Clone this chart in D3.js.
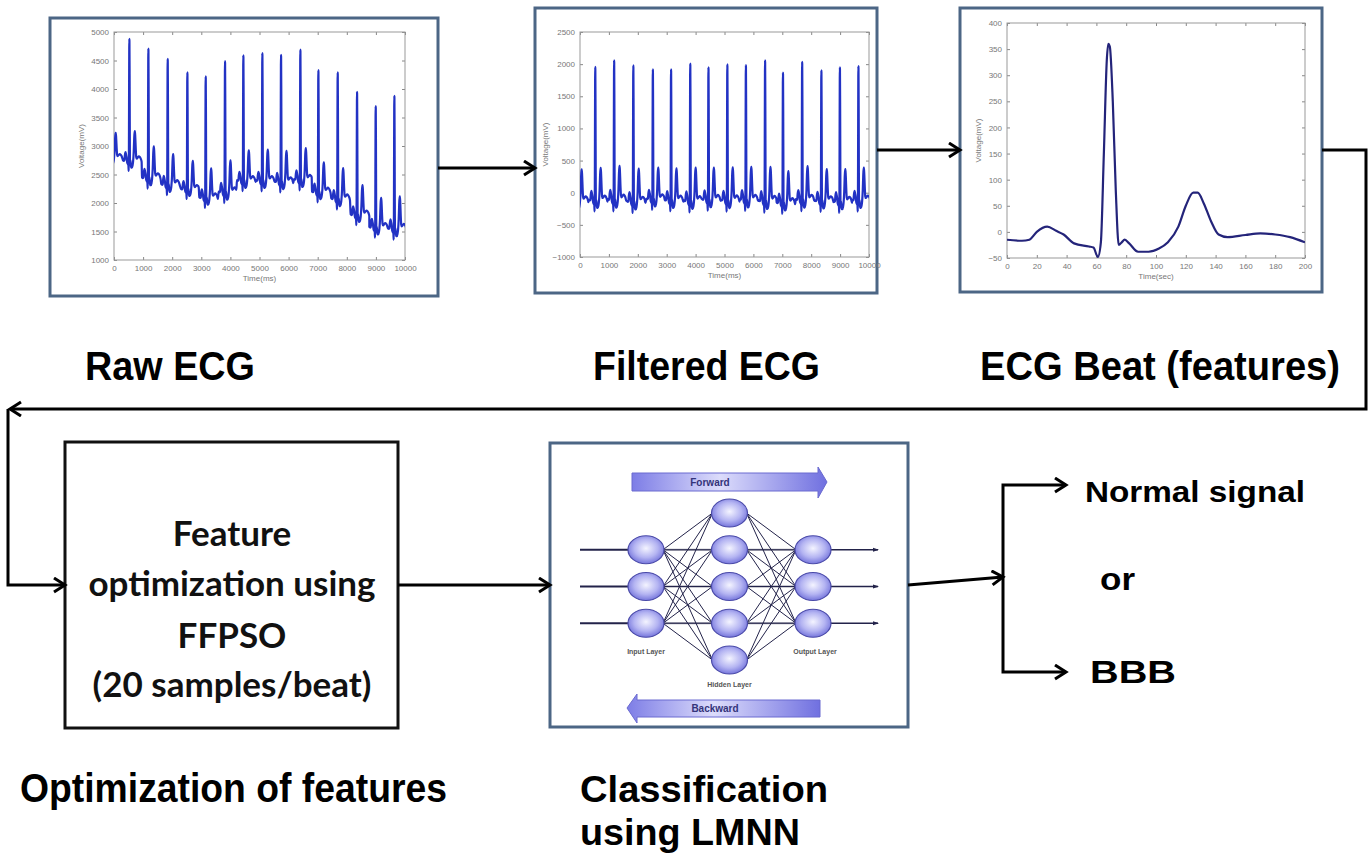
<!DOCTYPE html>
<html>
<head>
<meta charset="utf-8">
<script src="https://cdn.jsdelivr.net/npm/d3@7"></script>
<style>
  body { margin: 0; background: #fff; }
  svg { display: block; }
</style>
</head>
<body>
<svg></svg>
<script>
const width = 1372
const height = 853

// one ECG beat (panel 3), sample index and voltage
const beatT = [0, 10, 15, 20, 27, 33, 38, 45, 55, 58, 61, 63, 65, 67, 68, 69, 71, 73, 75, 77, 79, 82, 88, 95, 102, 108, 115, 120, 125, 128, 132, 137, 142, 148, 160, 170, 180, 190, 200]
const beatV = [-15, -17, -15, 0, 10, 2, -5, -22, -28, -30, -48, -20, 150, 330, 360, 355, 250, 80, -25, -20, -15, -22, -38, -38, -32, -20, 10, 50, 75, 75, 55, 20, -5, -10, -6, -3, -5, -10, -20]

// R peak times (ms) of the 10 s record, first one is just before 0
const rPeakTimes = [-130, 527, 1180, 1844, 2520, 3150, 3814, 4444, 5097, 5739, 6403, 7022, 7686, 8351, 8992, 9633]
// raw record: R peak values and isoelectric level of every beat
const rawPeaks = [4600, 4880, 4710, 4530, 4290, 4220, 4490, 4590, 4630, 4600, 4690, 4330, 4290, 3950, 3700, 3880]
const rawBase = [2800, 2750, 2450, 2330, 2250, 2100, 2200, 2400, 2400, 2380, 2420, 2200, 2080, 1800, 1580, 1560]
// filtered record
const filtPeaks = [1900, 1956, 2060, 1980, 1920, 1920, 2010, 1950, 1995, 1985, 2060, 1870, 2035, 1905, 1950, 1970]
const filtBase = [-120, -110, -100, -130, -90, -110, -120, -100, -110, -100, -120, -150, -100, -120, -130, -110]

// tick labels
const timeMsTicks = [0, 1000, 2000, 3000, 4000, 5000, 6000, 7000, 8000, 9000, 10000]
const rawVoltTicks = [1000, 1500, 2000, 2500, 3000, 3500, 4000, 4500, 5000]
const filtVoltTicks = [-1000, -500, 0, 500, 1000, 1500, 2000, 2500]
const beatTimeTicks = [0, 20, 40, 60, 80, 100, 120, 140, 160, 180, 200]
const beatVoltTicks = [-50, 0, 50, 100, 150, 200, 250, 300, 350, 400]

// neural net panel
const layerSizes = [3, 5, 3]
const layerNames = ['Input Layer', 'Hidden Layer', 'Output Layer']

const msPerSample = 3.2
const beatIso = beatV[0]
const beatPeak = d3.max(beatV)
const beatRSample = beatT[beatV.indexOf(beatPeak)]

const svg = d3.select('svg')
  .attr('width', width)
  .attr('height', height)

const defs = svg.append('defs')

// open chevron arrow head
defs.append('marker')
  .attr('id', 'head')
  .attr('markerUnits', 'userSpaceOnUse')
  .attr('markerWidth', 18)
  .attr('markerHeight', 18)
  .attr('refX', 13)
  .attr('refY', 8)
  .attr('orient', 'auto')
  .append('path')
  .attr('d', 'M2,1 L13,8 L2,15')
  .attr('fill', 'none')
  .attr('stroke', '#000')
  .attr('stroke-width', 3)

// place the beat template on every R peak
function buildEcg (times, peaks, bases) {
  const pts = []
  const rOffset = beatRSample * msPerSample
  times.forEach((r, i) => {
    const scale = (peaks[i] - bases[i]) / (beatPeak - beatIso)
    const next = i < times.length - 1 ? times[i + 1] - rOffset : Infinity
    beatT.forEach((s, k) => {
      const t = r + (s - beatRSample) * msPerSample
      if (t < next) pts.push([t, bases[i] + (beatV[k] - beatIso) * scale])
    })
  })
  return pts
}

function drawEcgPanel (cfg) {
  const [fx0, fy0, fx1, fy1] = cfg.frame
  const [px0, py0, px1, py1] = cfg.plot
  svg.append('rect')
    .attr('x', fx0).attr('y', fy0)
    .attr('width', fx1 - fx0).attr('height', fy1 - fy0)
    .attr('fill', '#fff')
    .attr('stroke', '#4c6685')
    .attr('stroke-width', 3)

  const x = d3.scaleLinear().domain(cfg.xDomain).range([px0, px1])
  const y = d3.scaleLinear().domain(cfg.yDomain).range([py1, py0])
  const g = svg.append('g')
  const fmt = d3.format('d')

  const styleAxis = (sel) => {
    sel.select('.domain').remove()
    sel.selectAll('line').attr('stroke', '#888')
    sel.selectAll('text')
      .attr('fill', '#777')
      .style('font-family', 'Liberation Sans, Arial, sans-serif')
      .style('font-size', '8px')
  }

  g.append('g')
    .attr('transform', 'translate(0,' + py1 + ')')
    .call(d3.axisBottom(x).tickValues(cfg.xTicks).tickFormat(fmt).tickSizeInner(-3).tickSizeOuter(0).tickPadding(5))
    .call(styleAxis)
  g.append('g')
    .attr('transform', 'translate(0,' + py0 + ')')
    .call(d3.axisTop(x).tickValues(cfg.xTicks).tickSizeInner(-3).tickSizeOuter(0).tickFormat(''))
    .call(styleAxis)
  g.append('g')
    .attr('transform', 'translate(' + px0 + ',0)')
    .call(d3.axisLeft(y).tickValues(cfg.yTicks).tickFormat(fmt).tickSizeInner(-3).tickSizeOuter(0).tickPadding(5))
    .call(styleAxis)
  g.append('g')
    .attr('transform', 'translate(' + px1 + ',0)')
    .call(d3.axisRight(y).tickValues(cfg.yTicks).tickSizeInner(-3).tickSizeOuter(0).tickFormat(''))
    .call(styleAxis)

  g.append('rect')
    .attr('x', px0).attr('y', py0)
    .attr('width', px1 - px0).attr('height', py1 - py0)
    .attr('fill', 'none')
    .attr('stroke', '#999')

  defs.append('clipPath').attr('id', cfg.id)
    .append('rect')
    .attr('x', px0).attr('y', py0)
    .attr('width', px1 - px0).attr('height', py1 - py0)

  const line = d3.line()
    .x((d) => x(d[0]))
    .y((d) => y(d[1]))
    .curve(d3.curveMonotoneX)

  g.append('path')
    .datum(cfg.data)
    .attr('clip-path', 'url(#' + cfg.id + ')')
    .attr('d', line)
    .attr('fill', 'none')
    .attr('stroke', cfg.color)
    .attr('stroke-width', cfg.lineWidth)
    .attr('stroke-linejoin', 'round')

  g.append('text')
    .attr('x', (px0 + px1) / 2)
    .attr('y', py1 + 21)
    .attr('text-anchor', 'middle')
    .attr('fill', '#777')
    .style('font-family', 'Liberation Sans, Arial, sans-serif')
    .style('font-size', '8px')
    .text(cfg.xLabel)

  g.append('text')
    .attr('transform', 'translate(' + (px0 - cfg.yLabelOffset) + ',' + ((py0 + py1) / 2) + ') rotate(-90)')
    .attr('text-anchor', 'middle')
    .attr('fill', '#777')
    .style('font-family', 'Liberation Sans, Arial, sans-serif')
    .style('font-size', '8px')
    .text('Voltage(mV)')
}

drawEcgPanel({
  id: 'clipRaw',
  frame: [50, 18, 438, 296],
  plot: [114, 32, 405, 260],
  xDomain: [0, 10000],
  yDomain: [1000, 5000],
  xTicks: timeMsTicks,
  yTicks: rawVoltTicks,
  data: buildEcg(rPeakTimes, rawPeaks, rawBase),
  color: '#2232c4',
  lineWidth: 2.2,
  xLabel: 'Time(ms)',
  yLabelOffset: 30
})

drawEcgPanel({
  id: 'clipFilt',
  frame: [535, 8, 877, 293],
  plot: [580, 32, 869, 257],
  xDomain: [0, 10000],
  yDomain: [-1000, 2500],
  xTicks: timeMsTicks,
  yTicks: filtVoltTicks,
  data: buildEcg(rPeakTimes, filtPeaks, filtBase),
  color: '#2232c4',
  lineWidth: 2.2,
  xLabel: 'Time(ms)',
  yLabelOffset: 32
})

drawEcgPanel({
  id: 'clipBeat',
  frame: [960, 8, 1322, 292],
  plot: [1007, 23, 1305, 258],
  xDomain: [0, 200],
  yDomain: [-50, 400],
  xTicks: beatTimeTicks,
  yTicks: beatVoltTicks,
  data: beatT.map((t, i) => [t, beatV[i]]),
  color: '#24247a',
  lineWidth: 2.2,
  xLabel: 'Time(sec)',
  yLabelOffset: 26
})

// ---- neural network panel
svg.append('rect')
  .attr('x', 550).attr('y', 443)
  .attr('width', 358).attr('height', 284)
  .attr('fill', '#fff')
  .attr('stroke', '#4c6685')
  .attr('stroke-width', 3)

const grad = defs.append('linearGradient').attr('id', 'arrowGrad')
grad.append('stop').attr('offset', '0%').attr('stop-color', '#7d7de6')
grad.append('stop').attr('offset', '45%').attr('stop-color', '#dcdcfb')
grad.append('stop').attr('offset', '100%').attr('stop-color', '#7070e0')

const nodeGrad = defs.append('radialGradient').attr('id', 'nodeGrad')
  .attr('cx', '50%').attr('cy', '45%').attr('r', '55%')
nodeGrad.append('stop').attr('offset', '0%').attr('stop-color', '#f4f4ff')
nodeGrad.append('stop').attr('offset', '60%').attr('stop-color', '#b4b4f2')
nodeGrad.append('stop').attr('offset', '100%').attr('stop-color', '#7676dc')

// forward / backward arrows
svg.append('path')
  .attr('d', 'M632,473 L818,473 L818,467 L827,482 L818,498 L818,491 L632,491 Z')
  .attr('fill', 'url(#arrowGrad)')
  .attr('stroke', '#6a6ad0')
svg.append('text')
  .attr('x', 710).attr('y', 486)
  .attr('text-anchor', 'middle')
  .attr('fill', '#34347a')
  .style('font-family', 'Liberation Sans, Arial, sans-serif')
  .style('font-size', '10px')
  .style('font-weight', 'bold')
  .text('Forward')
svg.append('path')
  .attr('d', 'M820,700 L637,700 L637,694 L627,708 L637,723 L637,717 L820,717 Z')
  .attr('fill', 'url(#arrowGrad)')
  .attr('stroke', '#6a6ad0')
svg.append('text')
  .attr('x', 715).attr('y', 712)
  .attr('text-anchor', 'middle')
  .attr('fill', '#34347a')
  .style('font-family', 'Liberation Sans, Arial, sans-serif')
  .style('font-size', '10px')
  .style('font-weight', 'bold')
  .text('Backward')

const layerX = d3.scalePoint().domain(d3.range(layerSizes.length)).range([646, 813])
const nodeY = d3.scaleLinear().domain([-2, 2]).range([513, 660])
const nodes = layerSizes.map((n, l) => d3.range(n).map((i) => ({
  x: layerX(l),
  y: nodeY(i - (n - 1) / 2)
})))

const nn = svg.append('g')
// gray through-lines at the input rows
nodes[0].forEach((a) => {
  nn.append('line')
    .attr('x1', a.x).attr('y1', a.y)
    .attr('x2', nodes[2][0].x).attr('y2', a.y)
    .attr('stroke', '#9a9aa8').attr('stroke-width', 2)
})
for (let l = 0; l < nodes.length - 1; l++) {
  nodes[l].forEach((a) => {
    nodes[l + 1].forEach((b) => {
      nn.append('line')
        .attr('x1', a.x + 17).attr('y1', a.y)
        .attr('x2', b.x - 17).attr('y2', b.y)
        .attr('stroke', '#23234a').attr('stroke-width', 1)
    })
  })
}
// inputs and outputs
nodes[0].forEach((a) => {
  nn.append('line')
    .attr('x1', 580).attr('y1', a.y).attr('x2', a.x - 16).attr('y2', a.y)
    .attr('stroke', '#23234a').attr('stroke-width', 2)
})
nodes[2].forEach((a) => {
  nn.append('line')
    .attr('x1', a.x + 16).attr('y1', a.y).attr('x2', 878).attr('y2', a.y)
    .attr('stroke', '#23234a').attr('stroke-width', 1.5)
  nn.append('path')
    .attr('d', 'M873,' + (a.y - 2) + ' L879,' + a.y + ' L873,' + (a.y + 2) + ' Z')
    .attr('fill', '#23234a')
})
nodes.forEach((layer, l) => {
  layer.forEach((a) => {
    nn.append('ellipse')
      .attr('cx', a.x).attr('cy', a.y)
      .attr('rx', 18).attr('ry', 14)
      .attr('fill', 'url(#nodeGrad)')
      .attr('stroke', '#4a4aa8')
      .attr('stroke-width', 1.2)
  })
  nn.append('text')
    .attr('x', layerX(l) + (l === 2 ? 2 : 0))
    .attr('y', d3.max(layer, (d) => d.y) + (l === 1 ? 27 : 31))
    .attr('text-anchor', 'middle')
    .attr('fill', '#555')
    .style('font-family', 'Liberation Sans, Arial, sans-serif')
    .style('font-size', '7px')
    .style('font-weight', 'bold')
    .text(layerNames[l])
})

// ---- optimisation box
svg.append('rect')
  .attr('x', 65).attr('y', 442)
  .attr('width', 333).attr('height', 286)
  .attr('fill', '#fff')
  .attr('stroke', '#111')
  .attr('stroke-width', 3)

const boxLines = ['Feature', 'optimization using', 'FFPSO', '(20 samples/beat)']
const boxBaselines = [546, 596, 648, 697]
boxLines.forEach((t, i) => {
  svg.append('text')
    .attr('x', 232).attr('y', boxBaselines[i])
    .attr('text-anchor', 'middle')
    .attr('fill', '#111')
    .style('font-family', 'Lato, "Open Sans", sans-serif')
    .style('font-size', '35px')
    .style('font-weight', 'bold')
    .text(t)
})

// ---- flow arrows
const arrows = [
  [[438, 168], [535, 168]],
  [[877, 150], [960, 150]],
  [[1322, 150], [1366, 150], [1366, 409], [10, 409]],
  [[8, 409], [8, 585], [65, 585]],
  [[398, 585], [550, 585]],
  [[908, 585], [1003, 577]],
  [[1003, 578], [1003, 485], [1066, 485]],
  [[1003, 578], [1003, 672], [1066, 672]]
]
arrows.forEach((pts) => {
  svg.append('path')
    .attr('d', d3.line()(pts))
    .attr('fill', 'none')
    .attr('stroke', '#000')
    .attr('stroke-width', 3)
    .attr('marker-end', 'url(#head)')
})

// ---- captions
const captions = [
  { t: 'Raw ECG', x: 85, y: 380, w: 170, s: 41 },
  { t: 'Filtered ECG', x: 593, y: 380, w: 227, s: 41 },
  { t: 'ECG Beat (features)', x: 980, y: 380, w: 360, s: 41 },
  { t: 'Optimization of features', x: 20, y: 802, w: 427, s: 41 },
  { t: 'Classification', x: 580, y: 802, w: 248, s: 37 },
  { t: 'using LMNN', x: 580, y: 845, w: 220, s: 36 },
  { t: 'Normal signal', x: 1085, y: 502, w: 220, s: 30 },
  { t: 'or', x: 1100, y: 590, w: 35, s: 31 },
  { t: 'BBB', x: 1090, y: 683, w: 86, s: 32 }
]
captions.forEach((c) => {
  svg.append('text')
    .attr('x', c.x).attr('y', c.y)
    .attr('textLength', c.w)
    .attr('lengthAdjust', 'spacingAndGlyphs')
    .attr('fill', '#000')
    .style('font-family', 'Liberation Sans, Arial, sans-serif')
    .style('font-size', c.s + 'px')
    .style('font-weight', 'bold')
    .text(c.t)
})
</script>
</body>
</html>
